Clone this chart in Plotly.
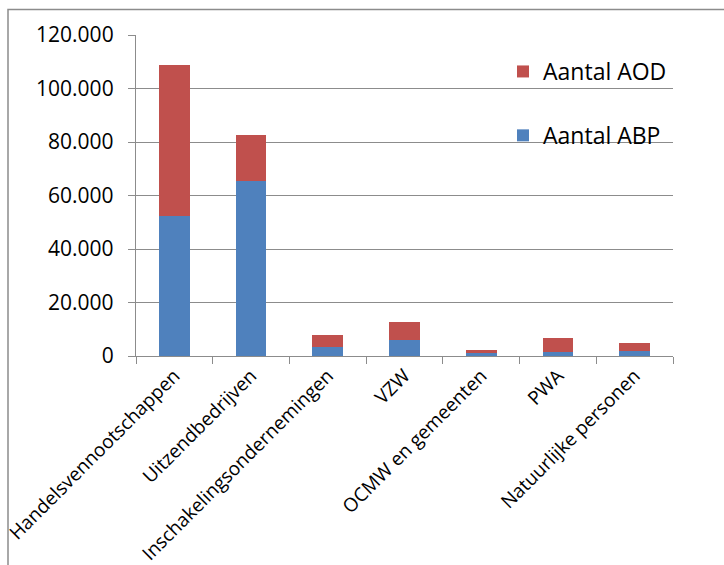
import plotly.graph_objects as go

categories = ["Handelsvennootschappen", "Uitzendbedrijven", "Inschakelingsondernemingen",
              "VZW", "OCMW en gemeenten", "PWA", "Natuurlijke personen"]
aantal_abp = [52300, 65400, 3200, 6000, 1100, 1650, 1900]
aantal_aod = [56600, 17400, 4800, 6700, 1000, 5250, 3000]
y_ticks = [0, 20000, 40000, 60000, 80000, 100000, 120000]

W, H = 724, 565
ML, MR, MT, MB = 136, 51, 35, 209
PW, PH = W - ML - MR, H - MT - MB

FONT = "Open Sans"
BLUE = "#4F81BD"
RED = "#C0504D"
GRID = "#8c8c8c"

fig = go.Figure()
fig.add_trace(go.Bar(x=categories, y=aantal_abp, name="Aantal ABP",
                     marker=dict(color=BLUE, line=dict(width=0)),
                     legendgroup="abp", legendrank=2))
fig.add_trace(go.Bar(x=categories, y=aantal_aod, name="Aantal AOD",
                     marker=dict(color=RED, line=dict(width=0)),
                     legendgroup="aod", legendrank=1))

def px_x(x):
    return (x - ML) / PW

def px_y(y):
    return (H - MB - y) / PH

fig.add_shape(type="path", xref="paper", yref="paper",
              path=f"M {px_x(8)},{px_y(H)} L {px_x(8)},{px_y(9.5)} L {px_x(W)},{px_y(9.5)}",
              line=dict(color=GRID, width=1.5))

fig.update_layout(
    width=W, height=H,
    margin=dict(l=ML, r=MR, t=MT, b=MB, autoexpand=False),
    barmode="stack", bargap=0.6,
    plot_bgcolor="white", paper_bgcolor="white",
    separators=",.",
    font=dict(family=FONT, size=21, color="#000000"),
    legend=dict(x=px_x(503), y=px_y(50), xanchor="left", yanchor="top",
                traceorder="grouped", tracegroupgap=31,
                bgcolor="rgba(0,0,0,0)", font=dict(size=23, family=FONT)),
    showlegend=True,
)
fig.update_yaxes(range=[0, 120000], tickvals=y_ticks, tickformat=",.0f",
                 showgrid=True, gridcolor=GRID, gridwidth=1.3,
                 showline=True, linecolor=GRID, linewidth=1.3,
                 ticks="outside", ticklen=7, tickcolor=GRID, tickwidth=1.3,
                 ticklabelstandoff=10, zeroline=False, automargin=False,
                 tickfont=dict(size=21, family=FONT, color="#000000"))
fig.update_xaxes(tickangle=-45, tickson="boundaries", ticks="outside", ticklen=7,
                 tickcolor=GRID, tickwidth=1.3, automargin=False,
                 showline=True, linecolor=GRID, linewidth=1.3, showgrid=False,
                 tickfont=dict(size=19, family=FONT, color="#000000"))

fig.write_html("out.html")
